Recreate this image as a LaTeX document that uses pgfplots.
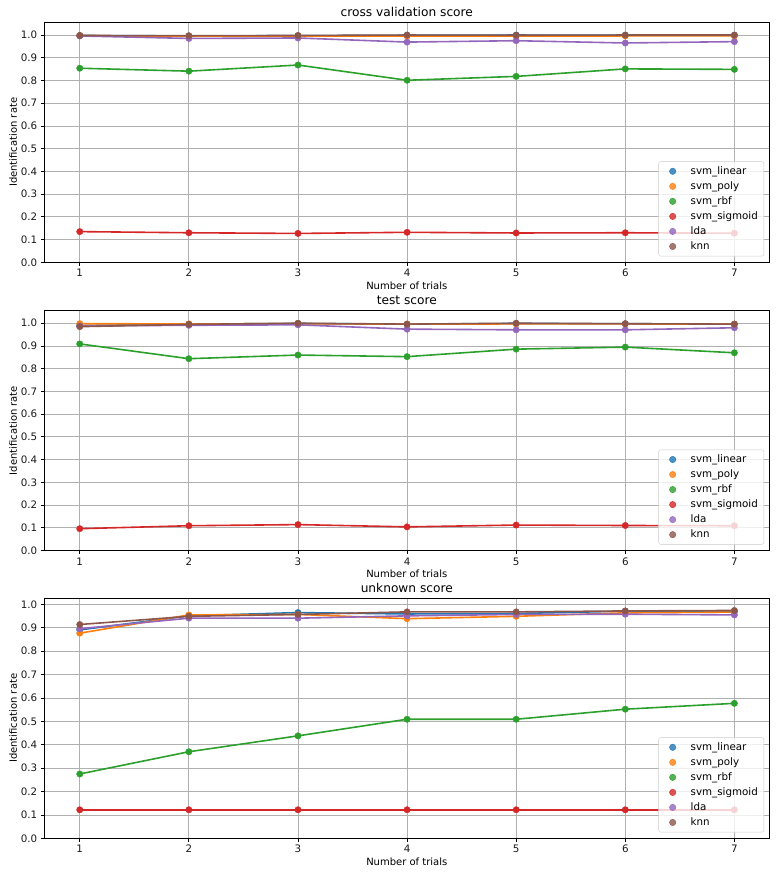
\documentclass[border=0pt]{standalone}
\usepackage{fontspec}
\setmainfont{DejaVu Sans}
\usepackage{pgfplots}
\pgfplotsset{compat=1.18}
\definecolor{cB}{HTML}{1F77B4}
\definecolor{cO}{HTML}{FF7F0E}
\definecolor{cG}{HTML}{2CA02C}
\definecolor{cR}{HTML}{D62728}
\definecolor{cP}{HTML}{9467BD}
\definecolor{cN}{HTML}{8C564B}
\pgfplotsset{
  myax/.style={
    scale only axis, width=725pt, height=240pt,
    xmin=0.675, xmax=7.32, ymin=0,
    xtick={1,...,7},
    ytick={0,0.1,...,1.0},
    yticklabel style={/pgf/number format/.cd, fixed, fixed zerofill, precision=1},
    /pgf/number format/assume math mode=true,
    tick pos=left, tick align=outside, major tick length=3.5pt,
    grid=major, major grid style={color=black!31, line width=0.8pt},
    axis line style={line width=0.8pt},
    tick style={black, line width=0.8pt},
    ticklabel style={font=\fontsize{10.3}{12}\selectfont, text=black!90},
    label style={font=\fontsize{10}{12}\selectfont},
    title style={font=\fontsize{12.2}{14}\selectfont, yshift=-4pt},
    xlabel={Number of trials}, ylabel={Identification rate},
    xlabel style={yshift=2pt},
    ylabel style={yshift=-3pt},
    legend style={at={(0.9927,0.025)}, anchor=south east, draw=black!20, fill=white, fill opacity=0.8, text opacity=1, rounded corners=2pt, font=\fontsize{10.3}{12}\selectfont, row sep=1.7pt, inner xsep=4pt, inner ysep=3pt},
    legend cell align=left,
    legend image code/.code={\path[draw=none,fill=none] (0pt,-1pt) rectangle (26pt,1pt); \fill (10pt,0pt) circle[radius=3.2pt];},
  },
  sc/.style={only marks, mark=*, mark size=3.2pt},
  ln/.style={no marks, line width=1.6pt, forget plot},
}
\begin{document}
\begin{tikzpicture}
\path[use as bounding box] (0,0) rectangle (780pt,-876pt);
% ---------- cross validation ----------
\begin{axis}[myax, at={(44.3pt,-22.3pt)}, anchor=north west, ymax=1.056, title={cross validation score}]
\addplot[sc, cB] coordinates {(1,0.998)(2,0.996)(3,0.997)(4,0.999)(5,1.000)(6,0.999)(7,0.999)};
\addplot[sc, cO] coordinates {(1,0.997)(2,0.995)(3,0.996)(4,0.995)(5,0.995)(6,0.996)(7,0.996)};
\addplot[sc, cG] coordinates {(1,0.854)(2,0.841)(3,0.868)(4,0.801)(5,0.818)(6,0.851)(7,0.849)};
\addplot[sc, cR] coordinates {(1,0.135)(2,0.130)(3,0.127)(4,0.132)(5,0.129)(6,0.130)(7,0.128)};
\addplot[sc, cP] coordinates {(1,0.996)(2,0.985)(3,0.987)(4,0.969)(5,0.975)(6,0.965)(7,0.971)};
\addplot[sc, cN] coordinates {(1,0.998)(2,0.997)(3,0.998)(4,1.000)(5,0.999)(6,1.000)(7,1.000)};
\addplot[ln, cB] coordinates {(1,0.998)(2,0.996)(3,0.997)(4,0.999)(5,1.000)(6,0.999)(7,0.999)};
\addplot[ln, cO] coordinates {(1,0.997)(2,0.995)(3,0.996)(4,0.995)(5,0.995)(6,0.996)(7,0.996)};
\addplot[ln, cG] coordinates {(1,0.854)(2,0.841)(3,0.868)(4,0.801)(5,0.818)(6,0.851)(7,0.849)};
\addplot[ln, cR] coordinates {(1,0.135)(2,0.130)(3,0.127)(4,0.132)(5,0.129)(6,0.130)(7,0.128)};
\addplot[ln, cP] coordinates {(1,0.996)(2,0.985)(3,0.987)(4,0.969)(5,0.975)(6,0.965)(7,0.971)};
\addplot[ln, cN] coordinates {(1,0.998)(2,0.997)(3,0.998)(4,1.000)(5,0.999)(6,1.000)(7,1.000)};
\legend{svm\_linear,svm\_poly,svm\_rbf,svm\_sigmoid,lda,knn}
\end{axis}
% ---------- test ----------
\begin{axis}[myax, at={(44.3pt,-310.5pt)}, anchor=north west, ymax=1.056, title={test score}]
\addplot[sc, cB] coordinates {(1,0.990)(2,0.996)(3,0.999)(4,0.996)(5,0.999)(6,0.998)(7,0.996)};
\addplot[sc, cO] coordinates {(1,0.998)(2,0.997)(3,0.998)(4,0.996)(5,0.997)(6,0.997)(7,0.996)};
\addplot[sc, cG] coordinates {(1,0.909)(2,0.844)(3,0.860)(4,0.853)(5,0.886)(6,0.895)(7,0.870)};
\addplot[sc, cR] coordinates {(1,0.096)(2,0.109)(3,0.114)(4,0.104)(5,0.112)(6,0.110)(7,0.109)};
\addplot[sc, cP] coordinates {(1,0.988)(2,0.991)(3,0.993)(4,0.974)(5,0.971)(6,0.971)(7,0.980)};
\addplot[sc, cN] coordinates {(1,0.985)(2,0.995)(3,1.000)(4,0.996)(5,1.000)(6,0.998)(7,0.996)};
\addplot[ln, cB] coordinates {(1,0.990)(2,0.996)(3,0.999)(4,0.996)(5,0.999)(6,0.998)(7,0.996)};
\addplot[ln, cO] coordinates {(1,0.998)(2,0.997)(3,0.998)(4,0.996)(5,0.997)(6,0.997)(7,0.996)};
\addplot[ln, cG] coordinates {(1,0.909)(2,0.844)(3,0.860)(4,0.853)(5,0.886)(6,0.895)(7,0.870)};
\addplot[ln, cR] coordinates {(1,0.096)(2,0.109)(3,0.114)(4,0.104)(5,0.112)(6,0.110)(7,0.109)};
\addplot[ln, cP] coordinates {(1,0.988)(2,0.991)(3,0.993)(4,0.974)(5,0.971)(6,0.971)(7,0.980)};
\addplot[ln, cN] coordinates {(1,0.985)(2,0.995)(3,1.000)(4,0.996)(5,1.000)(6,0.998)(7,0.996)};
\legend{svm\_linear,svm\_poly,svm\_rbf,svm\_sigmoid,lda,knn}
\end{axis}
% ---------- unknown ----------
\begin{axis}[myax, at={(44.3pt,-598.3pt)}, anchor=north west, ymax=1.026, title={unknown score}]
\addplot[sc, cB] coordinates {(1,0.891)(2,0.951)(3,0.965)(4,0.959)(5,0.961)(6,0.971)(7,0.970)};
\addplot[sc, cO] coordinates {(1,0.877)(2,0.955)(3,0.957)(4,0.939)(5,0.949)(6,0.964)(7,0.967)};
\addplot[sc, cG] coordinates {(1,0.275)(2,0.370)(3,0.438)(4,0.509)(5,0.509)(6,0.552)(7,0.577)};
\addplot[sc, cR] coordinates {(1,0.122)(2,0.122)(3,0.122)(4,0.122)(5,0.122)(6,0.122)(7,0.122)};
\addplot[sc, cP] coordinates {(1,0.896)(2,0.941)(3,0.941)(4,0.951)(5,0.957)(6,0.958)(7,0.955)};
\addplot[sc, cN] coordinates {(1,0.914)(2,0.949)(3,0.957)(4,0.968)(5,0.968)(6,0.972)(7,0.974)};
\addplot[ln, cB] coordinates {(1,0.891)(2,0.951)(3,0.965)(4,0.959)(5,0.961)(6,0.971)(7,0.970)};
\addplot[ln, cO] coordinates {(1,0.877)(2,0.955)(3,0.957)(4,0.939)(5,0.949)(6,0.964)(7,0.967)};
\addplot[ln, cG] coordinates {(1,0.275)(2,0.370)(3,0.438)(4,0.509)(5,0.509)(6,0.552)(7,0.577)};
\addplot[ln, cR] coordinates {(1,0.122)(2,0.122)(3,0.122)(4,0.122)(5,0.122)(6,0.122)(7,0.122)};
\addplot[ln, cP] coordinates {(1,0.896)(2,0.941)(3,0.941)(4,0.951)(5,0.957)(6,0.958)(7,0.955)};
\addplot[ln, cN] coordinates {(1,0.914)(2,0.949)(3,0.957)(4,0.968)(5,0.968)(6,0.972)(7,0.974)};
\legend{svm\_linear,svm\_poly,svm\_rbf,svm\_sigmoid,lda,knn}
\end{axis}
\end{tikzpicture}
\end{document}
